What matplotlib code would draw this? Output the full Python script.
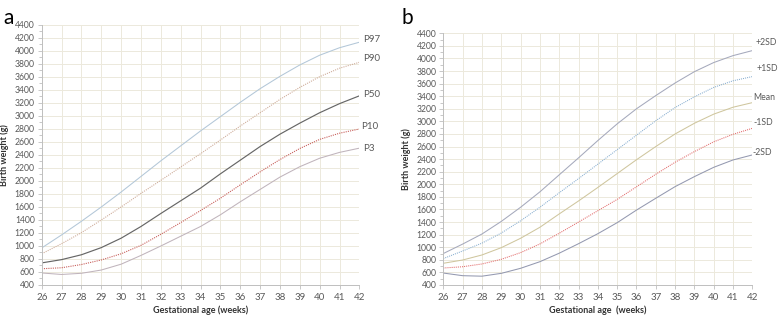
import matplotlib
matplotlib.use("Agg")
import matplotlib.pyplot as plt
import numpy as np
from matplotlib.ticker import MultipleLocator

weeks = list(range(26, 43))

# Panel a: percentiles
p97 = [970, 1170, 1380, 1600, 1830, 2070, 2310, 2540, 2770, 2990, 3210, 3420, 3610, 3785, 3935, 4050, 4135]
p90 = [880, 1035, 1205, 1400, 1600, 1810, 2010, 2215, 2420, 2630, 2845, 3050, 3255, 3440, 3605, 3735, 3826]
p50 = [740, 790, 865, 975, 1120, 1300, 1500, 1695, 1890, 2110, 2320, 2530, 2720, 2890, 3050, 3190, 3310]
p10 = [650, 665, 715, 785, 880, 1010, 1180, 1360, 1545, 1735, 1940, 2140, 2330, 2500, 2640, 2735, 2800]
p3 = [585, 562, 580, 630, 720, 855, 1000, 1150, 1300, 1480, 1680, 1870, 2060, 2220, 2350, 2440, 2505]

# Panel b: mean and SD curves
sd_p2 = [900, 1050, 1210, 1410, 1635, 1880, 2150, 2420, 2695, 2960, 3200, 3410, 3610, 3790, 3935, 4045, 4125]
sd_p1 = [820, 940, 1065, 1225, 1420, 1635, 1865, 2090, 2320, 2550, 2780, 3010, 3220, 3390, 3540, 3645, 3712]
mean = [745, 797, 877, 993, 1142, 1317, 1529, 1735, 1950, 2170, 2390, 2600, 2800, 2970, 3115, 3225, 3298]
sd_m1 = [670, 690, 734, 808, 914, 1052, 1222, 1400, 1580, 1760, 1960, 2160, 2350, 2520, 2675, 2795, 2890]
sd_m2 = [590, 548, 540, 585, 665, 770, 905, 1056, 1215, 1390, 1590, 1778, 1963, 2122, 2270, 2387, 2467]

labels_a = ["P97", "P90", "P50", "P10", "P3"]
labels_b = ["+2SD", "+1SD", "Mean", "-1SD", "-2SD"]

plt.rcParams['font.family'] = ['Lato', 'DejaVu Sans']

fig = plt.figure(figsize=(7.78, 3.18), dpi=100)
axa = fig.add_axes([0.0536, 0.1038, 0.4083, 0.8176])
axb = fig.add_axes([0.5698, 0.1038, 0.3972, 0.7915])

tick_col = '#595959'
grid_col = '#ece9dc'

def style(ax, xlabel):
    ax.set_xlim(26, 42)
    ax.set_ylim(400, 4400)
    ax.xaxis.set_major_locator(MultipleLocator(1))
    ax.yaxis.set_major_locator(MultipleLocator(200))
    ax.yaxis.set_minor_locator(MultipleLocator(100))
    ax.grid(True, which='major', color=grid_col, linewidth=0.7)
    ax.set_axisbelow(True)
    for s in ['top', 'right']:
        ax.spines[s].set_visible(False)
    for s in ['left', 'bottom']:
        ax.spines[s].set_color('#bfbfbf')
        ax.spines[s].set_linewidth(0.7)
    ax.tick_params(which='both', colors='#bfbfbf', labelcolor=tick_col, labelsize=6.2, width=0.6)
    ax.tick_params(which='major', length=3, pad=2)
    ax.tick_params(which='minor', length=2)
    ax.tick_params(axis='x', pad=3, labelsize=7)
    ax.set_xlabel(xlabel, fontsize=6.5, fontweight='bold', labelpad=2, color='#333333')
    ax.set_ylabel("Birth weight (g)", fontsize=6.5, fontweight='bold', labelpad=4, color='#333333')

style(axa, "Gestational age (weeks)")
style(axb, "Gestational age  (weeks)")

series_a = [p97, p90, p50, p10, p3]
colors_a = ['#b3c7d8', '#cfae9c', '#666666', '#c8605c', '#c0b4bc']
styles_a = ['-', (0, (1.0, 1.0)), '-', (0, (1.0, 1.0)), '-']
widths_a = [0.75, 0.8, 0.85, 0.8, 0.75]
offs_a = [(3, 2), (3, 3), (3, 1), (1, 2), (3, 0)]
for s, c, ls, lw, lab, off in zip(series_a, colors_a, styles_a, widths_a, labels_a, offs_a):
    axa.plot(weeks, s, color=c, linestyle=ls, linewidth=lw)
    axa.annotate(lab, xy=(weeks[-1], s[-1]), xytext=off, textcoords='offset points',
                 fontsize=7, color='#595959', va='center', ha='left', annotation_clip=False)

series_b = [sd_p2, sd_p1, mean, sd_m1, sd_m2]
colors_b = ['#a5a9bc', '#88aed0', '#cfc69e', '#e26a6a', '#9499b0']
styles_b = ['-', (0, (1.0, 1.0)), '-', (0, (1.0, 1.0)), '-']
offs_b = [(2, 6), (3, 6), (1, 4), (1, 4), (0, 2)]
for s, c, ls, lab, off in zip(series_b, colors_b, styles_b, labels_b, offs_b):
    axb.plot(weeks, s, color=c, linestyle=ls, linewidth=0.75)
    axb.annotate(lab, xy=(weeks[-1], s[-1]), xytext=off, textcoords='offset points',
                 fontsize=6.3, color='#595959', va='center', ha='left', annotation_clip=False)

fig.text(0.004, 0.975, "a", fontsize=15, va='top', ha='left')
fig.text(0.516, 0.975, "b", fontsize=15, va='top', ha='left')

fig.savefig("out.png", dpi=100)
